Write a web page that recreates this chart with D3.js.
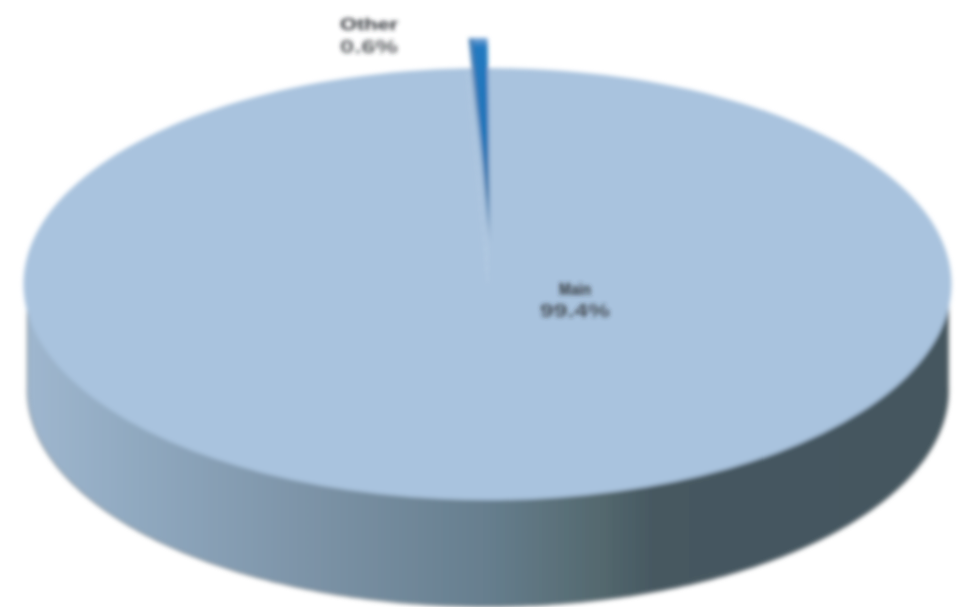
<!DOCTYPE html>
<html>
<head>
<meta charset="utf-8">
<script src="https://cdn.jsdelivr.net/npm/d3@7"></script>
<style>
html, body { margin: 0; padding: 0; background: #fff; overflow: hidden; }
svg { display: block; }
text { font-family: "Liberation Sans", Arial, sans-serif; fill: #30353a; }
</style>
</head>
<body>
<div id="chart"></div>
<script>
// labels are too blurred in the source to read, names are stand-ins
var categories = ["Other", "Main"];
var shares = [0.65, 99.35];
var shareLabels = ["0.6%", "99.4%"];

var width = 963, height = 607;
var cx = 488, cy = 284, rx = 464, ry = 216;
var depth = 106;
var startAngle = -0.046;
// exploded slice: tip position and its own vertical radius
var tipX = 490, tipY = 250, sliceRy = 212;

var svg = d3.select("#chart").append("svg")
	.attr("width", width)
	.attr("height", height);

var defs = svg.append("defs");

defs.append("filter").attr("id", "soft")
	.attr("x", "-5%").attr("y", "-5%").attr("width", "110%").attr("height", "110%")
	.append("feGaussianBlur").attr("stdDeviation", 2);

defs.append("filter").attr("id", "softText")
	.attr("x", "-20%").attr("y", "-40%").attr("width", "140%").attr("height", "180%")
	.append("feGaussianBlur").attr("stdDeviation", 2.2);

var addGradient = function(id, attrs, stops){
	var g = defs.append("linearGradient").attr("id", id)
		.attr("gradientUnits", "userSpaceOnUse");
	Object.keys(attrs).forEach(function(k){ g.attr(k, attrs[k]); });
	stops.forEach(function(s){
		g.append("stop")
			.attr("offset", s[0])
			.attr("stop-color", s[1])
			.attr("stop-opacity", s[2] === undefined ? 1 : s[2]);
	});
};

addGradient("wallFill", { x1: 24, x2: 950, y1: 0, y2: 0 }, [
	[0, "#9fb7cf"], [0.12, "#90a9c0"], [0.3, "#7d94a8"],
	[0.5, "#667e8e"], [0.62, "#54696f"], [0.68, "#465861"], [1, "#44565f"]
]);
// the slice gradients live in the slice's local frame, tip at 0,0
addGradient("sliceSide", { x1: 0, x2: 0, y1: -sliceRy, y2: -60 }, [
	[0, "#3f78b0"], [0.45, "#5f8cb8"], [1, "#a9c3de", 0.3]
]);
addGradient("sliceTop", { x1: 0, x2: 0, y1: -sliceRy, y2: 0 }, [
	[0, "#7fa9d8"], [0.04, "#2379c0"], [0.45, "#1f74b8"],
	[0.72, "#3f78ac"], [0.9, "#7c9dbf"], [1, "#a9c3de"]
]);

var root = svg.append("g").attr("filter", "url(#soft)");

var pie = d3.pie().sort(null).value(function(d){ return d; })
	.startAngle(startAngle)
	.endAngle(startAngle + 2 * Math.PI);
var slices = pie(shares);

// ellipse projection of a pie angle
var project = function(a, shift, squeeze){
	return [
		cx + (rx - squeeze) * Math.sin(a),
		cy + shift - ry * Math.cos(a)
	];
};

// side wall: front half of the rim
var front = d3.range(Math.PI / 2 - 0.02, 3 * Math.PI / 2 + 0.02, 0.01);
var wallPoints = front.map(function(a){ return project(a, depth, 4); })
	.concat(front.slice().reverse().map(function(a){ return project(a, 0, 4); }));

// grey edge just outside the wall
root.append("path")
	.attr("d", d3.line()(wallPoints) + "Z")
	.attr("fill", "none")
	.attr("stroke", "#7f878c")
	.attr("stroke-width", 2.5);

root.append("path")
	.attr("d", d3.line()(wallPoints) + "Z")
	.attr("fill", "url(#wallFill)");

// top face, unit radius arcs squashed into the ellipse
var arc = d3.arc().innerRadius(0).outerRadius(1);
var topFace = root.append("g")
	.attr("transform", "translate(" + cx + "," + cy + ") scale(" + rx + "," + ry + ")");

// both slices in the top colour, the thin one lifts away but leaves no gap
topFace.selectAll("path")
	.data(slices)
	.enter().append("path")
	.attr("d", arc)
	.attr("fill", "#a9c3de");

// exploded thin slice, drawn in its own frame
var sliceMid = (slices[0].startAngle + slices[0].endAngle) / 2;
var lifted = root.append("g")
	.attr("transform", "translate(" + tipX + "," + tipY + ")");

var wedge = function(a0, a1, fill){
	var pts = d3.range(a0, a1 + 0.001, (a1 - a0) / 6).map(function(a){
		return [rx * Math.sin(a), -sliceRy * Math.cos(a)];
	});
	lifted.append("path")
		.attr("d", d3.line()([[0, 0]].concat(pts)) + "Z")
		.attr("fill", fill);
};

wedge(slices[0].startAngle, sliceMid, "url(#sliceSide)");
wedge(sliceMid - 0.012, slices[0].endAngle, "url(#sliceTop)");

// labels, two lines each
var labels = svg.append("g").attr("filter", "url(#softText)");

var labelBoxes = [
	{ x: 369, y1: 30, y2: 53, w1: 58, w2: 58, o2: 0.8 },
	{ x: 575, y1: 295, y2: 317, w1: 32, w2: 70, o2: 0.8 }
];

categories.forEach(function(name, i){
	var box = labelBoxes[i];
	labels.append("text")
		.attr("x", box.x).attr("y", box.y1)
		.attr("text-anchor", "middle")
		.attr("font-size", 16)
		.attr("font-weight", "bold")
		.attr("textLength", box.w1)
		.attr("lengthAdjust", "spacingAndGlyphs")
		.text(name);
	labels.append("text")
		.attr("x", box.x).attr("y", box.y2)
		.attr("text-anchor", "middle")
		.attr("font-size", 18)
		.attr("font-weight", "bold")
		.attr("opacity", box.o2)
		.attr("textLength", box.w2)
		.attr("lengthAdjust", "spacingAndGlyphs")
		.text(shareLabels[i]);
});
</script>
</body>
</html>
